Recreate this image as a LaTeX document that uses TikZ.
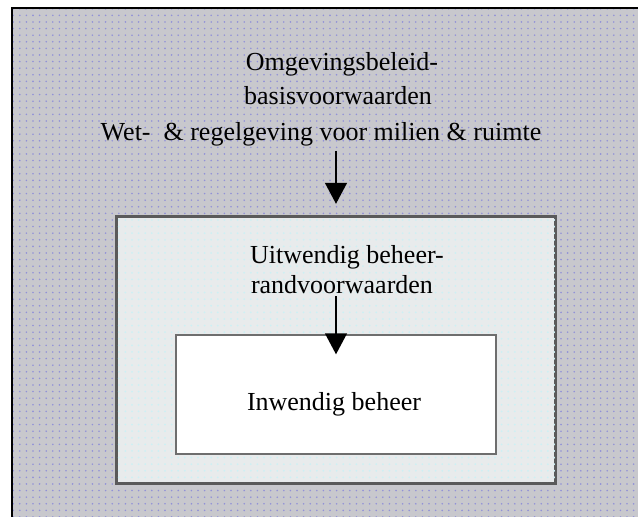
\documentclass[tikz,border=0pt]{standalone}
\usepackage{fontspec}
\setmainfont{Liberation Serif}
\usetikzlibrary{arrows.meta,patterns.meta}
\definecolor{outerfill}{RGB}{200,200,205}
\definecolor{outerdot}{RGB}{145,145,215}
\definecolor{midfill}{RGB}{232,235,236}
\definecolor{middot}{RGB}{205,240,244}
\definecolor{midline}{RGB}{90,90,90}
\definecolor{innerline}{RGB}{110,110,110}
\tikzset{
  lbl/.style={anchor=base, inner sep=0pt, font=\fontsize{26}{30}\selectfont},
  arr/.style={-{Triangle[length=21pt,width=22pt]}, line width=1.4pt, black},
}
\begin{document}
\begin{tikzpicture}[x=1pt,y=-1pt]
  \useasboundingbox (0,0) rectangle (638,517);
  \clip (0,0) rectangle (638,517);
  \fill[white] (0,0) rectangle (638,517);
  % outer field: policy framework
  \fill[outerfill] (12,8) rectangle (660,540);
  \fill[pattern={Dots[distance=6.6pt,radius=0.9pt]}, pattern color=outerdot] (12,8) rectangle (660,540);
  \draw[black, line width=2.6pt] (660,8) -- (12,8) -- (12,540);
  % middle field: external management
  \node (mid) [draw=midline, line width=2.4pt, fill=midfill, minimum width=438pt, minimum height=266pt, inner sep=0pt] at (336,350) {};
  \fill[pattern={Dots[distance=6.6pt,radius=1pt]}, pattern color=middot] (mid.north west) rectangle (mid.south east);
  \draw[midline, line width=2.4pt] (mid.north west) rectangle (mid.south east);
  % inner field: internal management
  \node (inner) [draw=innerline, line width=1.4pt, fill=white, minimum width=320pt, minimum height=119pt, inner sep=0pt] at (336,394.5) {};
  % labels
  \node (t1) [lbl] at (342,70) {Omgevingsbeleid-};
  \node (t2) [lbl] at (338,104) {basisvoorwaarden};
  \node (t3) [lbl] at (321,140) {Wet-\ \ \& regelgeving voor milien \& ruimte};
  \node (u1) [lbl] at (347,263) {Uitwendig beheer-};
  \node (u2) [lbl] at (342,293) {randvoorwaarden};
  \node (i1) [lbl] at (334,410) {Inwendig beheer};
  % arrows
  \draw[arr, shorten >=12pt] (t3.south -| mid.north) ++(0,5) -- (mid.north);
  \draw[arr, shorten >=-20pt] (u2.south -| inner.north) ++(0,3) -- (inner.north);
\end{tikzpicture}
\end{document}
